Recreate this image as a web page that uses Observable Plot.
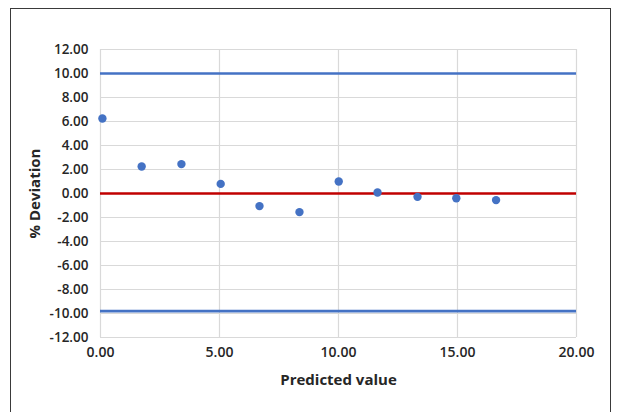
<!DOCTYPE html>
<html>
<head>
<meta charset="utf-8">
<script src="https://cdn.jsdelivr.net/npm/d3@7"></script>
<script src="https://cdn.jsdelivr.net/npm/@observablehq/plot@0.6"></script>
<style>
  html, body { margin: 0; padding: 0; background: #fff; overflow: hidden; }
  #wrap { position: relative; width: 618px; height: 412px; }
  #frame { position: absolute; left: 10px; top: 8px; width: 601px; height: 420px; border: 1.5px solid #3a3a3a; box-sizing: border-box; }
  #chart { position: absolute; left: 0; top: 0; }
</style>
</head>
<body>
<div id="wrap"><div id="frame"></div><div id="chart"></div></div>
<script>
const predicted = [0.08, 1.73, 3.40, 5.05, 6.68, 8.36, 10.01, 11.64, 13.32, 14.95, 16.62];
const deviation = [6.25, 2.25, 2.45, 0.80, -1.05, -1.55, 1.00, 0.08, -0.28, -0.39, -0.55];
const limitLines = [10, -9.8];
const zeroLine = [0];
const xTicks = [0, 5, 10, 15, 20];
const yTicks = [-12, -10, -8, -6, -4, -2, 0, 2, 4, 6, 8, 10, 12];
const xLabel = "Predicted value";
const yLabel = "% Deviation";

const points = predicted.map((x, i) => ({x, y: deviation[i]}));
const fmt = d => d.toFixed(2);

const chart = Plot.plot({
  width: 618,
  height: 412,
  marginLeft: 100,
  marginRight: 42,
  marginTop: 49,
  marginBottom: 75,
  style: {fontFamily: "'Open Sans', sans-serif", background: "transparent", color: "#262626"},
  x: {domain: [0, 20], label: null},
  y: {domain: [-12, 12], label: null},
  marks: [
    Plot.gridX(xTicks, {stroke: "#d9d9d9", strokeOpacity: 1, strokeWidth: 1.2}),
    Plot.gridY(yTicks, {stroke: "#d9d9d9", strokeOpacity: 1, strokeWidth: 1.2}),
    Plot.axisX(xTicks, {tickSize: 0, tickPadding: 10, tickFormat: fmt, fontSize: 14, fontWeight: 600, fill: "#262626", label: null}),
    Plot.axisY(yTicks, {tickSize: 0, tickPadding: 12, tickFormat: fmt, fontSize: 13.5, fontWeight: 600, fill: "#262626", label: null}),
    Plot.ruleY(limitLines, {stroke: "#4472c4", strokeWidth: 2.6}),
    Plot.ruleY(zeroLine, {stroke: "#c00000", strokeWidth: 2.6}),
    Plot.dot(points, {x: "x", y: "y", r: 4.2, fill: "#4472c4", stroke: "none"}),
    Plot.text([xLabel], {frameAnchor: "bottom", dy: 43, lineAnchor: "middle", textAnchor: "middle", fontSize: 15, fontWeight: 700, fill: "#262626"}),
    Plot.text([yLabel], {frameAnchor: "left", dx: -65, rotate: -90, textAnchor: "middle", lineAnchor: "middle", fontSize: 15, fontWeight: 700, fill: "#262626"})
  ]
});
document.getElementById("chart").appendChild(chart);
</script>
</body>
</html>
